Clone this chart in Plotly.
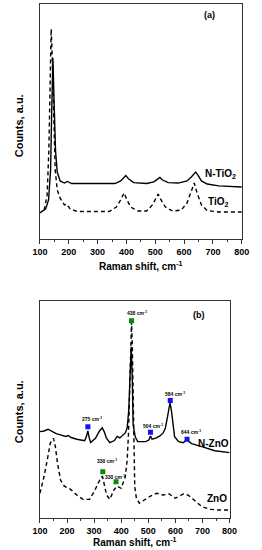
import plotly.graph_objects as go

# ---------------- Panel (a): TiO2 ----------------
a_ntio2_x = [100, 120, 130, 137, 141, 145, 149, 154, 160, 170, 185, 195, 210, 300, 360, 380, 390, 398, 408,
             425, 470, 495, 508, 516, 525, 545, 580, 610, 625, 635, 640, 648, 660, 680, 720, 800]
a_ntio2_y = [11.1, 12.8, 16.6, 29.4, 54.9, 77.0, 59.1, 37.9, 28.5, 24.7, 23.8, 24.5, 23.6, 23.5, 23.6, 24.7,
             26.0, 27.0, 25.5, 24.0, 23.6, 24.3, 25.5, 26.2, 25.1, 24.0, 23.8, 24.7, 26.4, 28.1, 28.5, 27.2,
             24.7, 23.4, 22.6, 22.1]

a_tio2_x = [115, 125, 131, 135, 139, 143, 148, 153, 160, 170, 185, 192, 205, 230, 340, 365, 380, 392, 402,
            415, 440, 470, 490, 502, 510, 520, 535, 560, 590, 610, 625, 635, 645, 660, 680, 720, 800]
a_tio2_y = [12.3, 18.7, 37.9, 67.7, 89.4, 76.2, 50.6, 29.4, 20.9, 17.4, 14.5, 14.9, 12.8, 11.7, 11.7, 13.6,
            16.6, 19.6, 16.6, 13.6, 11.9, 11.9, 14.5, 17.4, 19.1, 16.6, 13.6, 11.9, 12.3, 15.3, 20.0, 23.8,
            19.6, 14.5, 12.1, 11.5, 11.5]

# ---------------- Panel (b): ZnO ----------------
b_nzno_x = [100, 115, 130, 144, 160, 179, 195, 205, 215, 236, 265, 271, 277, 282, 287, 305, 320, 330, 338,
            345, 358, 375, 385, 395, 404, 415, 422, 428, 432, 437, 441, 444, 452, 461, 490, 502, 508, 514,
            530, 543, 555, 563, 571, 576, 580, 585, 590, 597, 612, 629, 636, 641, 647, 660, 698, 745, 800]
b_nzno_y = [39.8, 40.1, 40.9, 39.8, 38.9, 38.2, 37.6, 38.0, 37.1, 36.3, 35.6, 37.3, 40.1, 36.9, 34.8, 36.7,
            40.1, 41.6, 39.6, 36.9, 34.7, 35.7, 37.6, 36.9, 37.8, 39.2, 41.5, 49.8, 63.6, 78.9, 63.6, 42.9,
            37.3, 35.2, 35.2, 35.9, 37.8, 36.3, 36.9, 37.8, 39.2, 41.5, 46.7, 51.6, 53.1, 49.8, 44.2, 37.5,
            35.2, 34.7, 35.5, 36.4, 35.5, 34.3, 32.9, 31.0, 30.1]

b_zno_x = [100, 115, 127, 138, 150, 157, 165, 176, 190, 213, 236, 259, 283, 300, 315, 326, 331, 337, 346,
           358, 373, 384, 400, 415, 422, 427, 432, 436, 438, 441, 444, 447, 450, 456, 467, 485, 508, 531,
           554, 577, 600, 629, 646, 669, 698, 727, 756, 800]
b_zno_y = [11.4, 19.0, 26.7, 34.4, 36.7, 32.9, 25.2, 17.5, 14.7, 13.2, 10.6, 8.6, 8.6, 12.1, 16.0, 18.8,
           19.1, 16.0, 10.6, 8.6, 12.9, 14.7, 13.7, 19.0, 26.7, 39.2, 63.6, 86.6, 90.3, 79.7, 54.4, 31.3,
           14.4, 9.1, 6.8, 8.3, 10.1, 11.4, 10.6, 11.1, 9.1, 11.1, 10.6, 8.3, 5.2, 4.0, 3.7, 3.7]

# peak markers
blue_x = [277, 508, 581, 643]
blue_y = [42.1, 39.5, 54.1, 36.3]
blue_lbl = ["275 cm<sup>-1</sup>", "504 cm<sup>-1</sup>", "584 cm<sup>-1</sup>", "644 cm<sup>-1</sup>"]
blue_lbl_x = [291, 519, 600, 658]
blue_lbl_y = [45.5, 42.5, 57.0, 39.5]

green_x = [438, 332, 381]
green_y = [90.9, 21.3, 16.7]
green_lbl = ["438 cm<sup>-1</sup>", "330 cm<sup>-1</sup>", "330 cm<sup>-1</sup>"]
green_lbl_x = [459, 346, 377]
green_lbl_y = [94.5, 26.2, 19.0]

FONT = "Liberation Sans, Arial, sans-serif"
AX = "#333333"

fig = go.Figure()
fig.add_trace(go.Scatter(x=a_ntio2_x, y=a_ntio2_y, mode="lines", line=dict(color="black", width=1.4),
                         xaxis="x", yaxis="y"))
fig.add_trace(go.Scatter(x=a_tio2_x, y=a_tio2_y, mode="lines",
                         line=dict(color="black", width=1.4, dash="4px,3px"), xaxis="x", yaxis="y"))
fig.add_trace(go.Scatter(x=b_nzno_x, y=b_nzno_y, mode="lines", line=dict(color="black", width=1.4),
                         xaxis="x2", yaxis="y2"))
fig.add_trace(go.Scatter(x=b_zno_x, y=b_zno_y, mode="lines",
                         line=dict(color="black", width=1.4, dash="4px,3px"), xaxis="x2", yaxis="y2"))
fig.add_trace(go.Scatter(x=blue_x, y=blue_y, mode="markers",
                         marker=dict(symbol="square", size=5, color="#1010ff"), xaxis="x2", yaxis="y2"))
fig.add_trace(go.Scatter(x=green_x, y=green_y, mode="markers",
                         marker=dict(symbol="square", size=5, color="#0a8a0a"), xaxis="x2", yaxis="y2"))

def xax(domain, anchor):
    return dict(domain=domain, anchor=anchor, range=[100, 800], tickvals=[100, 200, 300, 400, 500, 600, 700, 800],
                ticks="outside", ticklen=4, tickwidth=1, tickcolor=AX, showline=True, linecolor=AX,
                linewidth=1, mirror=True, showgrid=False, zeroline=False,
                minor=dict(ticks="outside", ticklen=2, dtick=50, tickcolor=AX),
                tickfont=dict(family=FONT, size=9, color="black", weight="bold"))

def yax(domain, anchor):
    return dict(domain=domain, anchor=anchor, range=[0, 100], showticklabels=False, ticks="",
                showline=True, linecolor=AX, linewidth=1, mirror=True, showgrid=False, zeroline=False)

W, H = 262, 550
annotations = []
def ann(text, x, y, xref, yref, size, **kw):
    annotations.append(dict(text=text, x=x, y=y, xref=xref, yref=yref, showarrow=False,
                            xanchor="center", yanchor="middle",
                            font=dict(family=FONT, size=size, color="black", weight="bold"), **kw))

# panel (a) texts
ann("N-TiO<sub>2</sub>", 725, 27.7, "x", "y", 10)
ann("TiO<sub>2</sub>", 719, 15.7, "x", "y", 10)
ann("(a)", 689, 95.3, "x", "y", 9)
# panel (b) texts
ann("N-ZnO", 741, 34.4, "x2", "y2", 10)
ann("ZnO", 755, 8.8, "x2", "y2", 10)
ann("(b)", 686, 93.5, "x2", "y2", 9)
for t, x, y in zip(blue_lbl, blue_lbl_x, blue_lbl_y):
    ann(t, x, y, "x2", "y2", 5)
for t, x, y in zip(green_lbl, green_lbl_x, green_lbl_y):
    ann(t, x, y, "x2", "y2", 5)

# axis titles
ann("Raman shift, cm<sup>-1</sup>", 141.5 / W, 1 - 266 / H, "paper", "paper", 10)
ann("Raman shift, cm<sup>-1</sup>", 135 / W, 1 - 542 / H, "paper", "paper", 10)
ann("Counts, a.u.", 12 / W, 1 - 126 / H, "paper", "paper", 11, textangle=-90)
ann("Counts, a.u.", 12 / W, 1 - 412 / H, "paper", "paper", 11, textangle=-90)

fig.update_layout(
    width=W, height=H, margin=dict(l=0, r=0, t=0, b=0),
    paper_bgcolor="white", plot_bgcolor="white", showlegend=False, hovermode=False,
    xaxis=xax([34 / W, 249 / W], "y"), yaxis=yax([1 - 239 / H, 1 - 4 / H], "x"),
    xaxis2=xax([34 / W, 236 / W], "y2"), yaxis2=yax([1 - 518 / H, 1 - 301 / H], "x2"),
    annotations=annotations,
)

fig.write_html("out.html", config={"displayModeBar": False, "staticPlot": True},
               post_script="document.body.style.margin='0px';document.body.style.overflow='hidden';")
